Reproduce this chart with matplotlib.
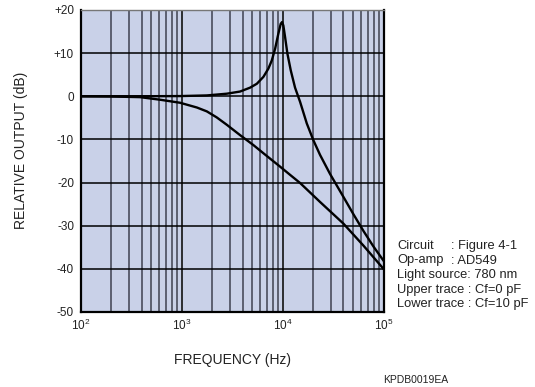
import matplotlib
matplotlib.use('Agg')
import matplotlib.pyplot as plt
from matplotlib.ticker import FixedLocator, NullFormatter

plt.rcParams['font.family'] = ['Liberation Sans', 'DejaVu Sans']
plt.rcParams['mathtext.fontset'] = 'custom'
plt.rcParams['mathtext.rm'] = 'Liberation Sans'

# upper trace (Cf=0 pF)
upper_freq = [100, 300, 960, 1770, 2790, 3780, 4750, 5540, 6440, 7210, 7800, 8410,
              9060, 9570, 9860, 10160, 10570, 11140, 12030, 13270, 14890, 17350,
              20170, 23500, 29500, 40000, 50200, 63200, 79400, 100000]
upper_db = [0, 0, 0.05, 0.2, 0.6, 1.1, 2.0, 2.9, 4.5, 6.4, 8.3, 11.0,
            14.5, 16.8, 17.2, 16.4, 13.7, 9.9, 6.0, 2.0, -1.3, -6.3,
            -10.2, -13.6, -18.0, -23.3, -27.3, -31.2, -34.8, -38.1]

# lower trace (Cf=10 pF)
lower_freq = [100, 200, 385, 610, 960, 1410, 1770, 2220, 2790, 3780, 5120, 6440,
              9420, 11830, 14890, 23500, 40000, 63200, 100000]
lower_db = [0, -0.05, -0.2, -0.8, -1.5, -2.6, -3.5, -4.9, -6.6, -9.0, -11.3, -13.2,
            -16.3, -18.2, -20.1, -24.5, -29.5, -34.6, -40.0]

y_ticks = [20, 10, 0, -10, -20, -30, -40, -50]
y_labels = ['+20', '+10', '0', '-10', '-20', '-30', '-40', '-50']
x_ticks = [1e2, 1e3, 1e4, 1e5]
x_labels = [r'$10^2$', r'$10^3$', r'$10^4$', r'$10^5$']

info_keys = ['Circuit', 'Op-amp']
info_vals = [': Figure 4-1', ': AD549']
info_lines = ['Light source: 780 nm', 'Upper trace : Cf=0 pF', 'Lower trace : Cf=10 pF']

W, H = 535, 387
fig = plt.figure(figsize=(W / 100, H / 100), dpi=100)
ax = fig.add_axes([81 / W, 1 - 312 / H, (383.5 - 81) / W, (312 - 10) / H])
ax.set_facecolor('#c9d1e8')

ax.set_xscale('log')
ax.set_xlim(1e2, 1e5)
ax.set_ylim(-50, 20)

minor = [m * 10 ** e for e in (2, 3, 4) for m in range(2, 10)]
ax.xaxis.set_major_locator(FixedLocator(x_ticks))
ax.xaxis.set_minor_locator(FixedLocator(minor))
ax.xaxis.set_minor_formatter(NullFormatter())
ax.set_xticks(x_ticks)
ax.set_xticklabels(x_labels)
ax.set_yticks(y_ticks)
ax.set_yticklabels(y_labels)

ax.grid(which='minor', axis='x', color='#3e4150', linewidth=1.1, zorder=1)
ax.grid(which='major', axis='x', color='#111111', linewidth=1.2, zorder=1)
ax.grid(which='major', axis='y', color='#000000', linewidth=1.1, zorder=1)
ax.set_axisbelow(True)

ax.tick_params(which='both', length=0, labelsize=8.5, colors='#222222')
ax.tick_params(axis='y', pad=5)
ax.tick_params(axis='x', pad=4)

ax.plot(upper_freq, upper_db, color='black', linewidth=1.7, zorder=3,
        solid_joinstyle='round')
ax.plot(lower_freq, lower_db, color='black', linewidth=1.7, zorder=3,
        solid_joinstyle='round')

for side in ['left', 'bottom', 'right']:
    ax.spines[side].set_color('black')
    ax.spines[side].set_linewidth(1.6)
ax.spines['top'].set_color('#777777')
ax.spines['top'].set_linewidth(1.0)

fig.text(21 / W, 1 - 150 / H, 'RELATIVE OUTPUT (dB)', rotation=90, ha='center', va='center',
         fontsize=10, color='#222222')
fig.text(233 / W, 1 - 360 / H, 'FREQUENCY (Hz)', ha='center', va='center',
         fontsize=10, color='#222222')
fig.text(383 / W, 1 - 380 / H, 'KPDB0019EA', ha='left', va='center', fontsize=7.5, color='#222222')

y0 = 249
dy = 14.5
for i, (k, v) in enumerate(zip(info_keys, info_vals)):
    fig.text(397 / W, 1 - (y0 + i * dy) / H, k, ha='left', va='baseline', fontsize=9.3, color='#222222')
    fig.text(451 / W, 1 - (y0 + i * dy) / H, v, ha='left', va='baseline', fontsize=9.3, color='#222222')
for j, line in enumerate(info_lines):
    i = j + len(info_keys)
    fig.text(397 / W, 1 - (y0 + i * dy) / H, line, ha='left', va='baseline', fontsize=9.3, color='#222222')

fig.savefig('out.png', dpi=100)
